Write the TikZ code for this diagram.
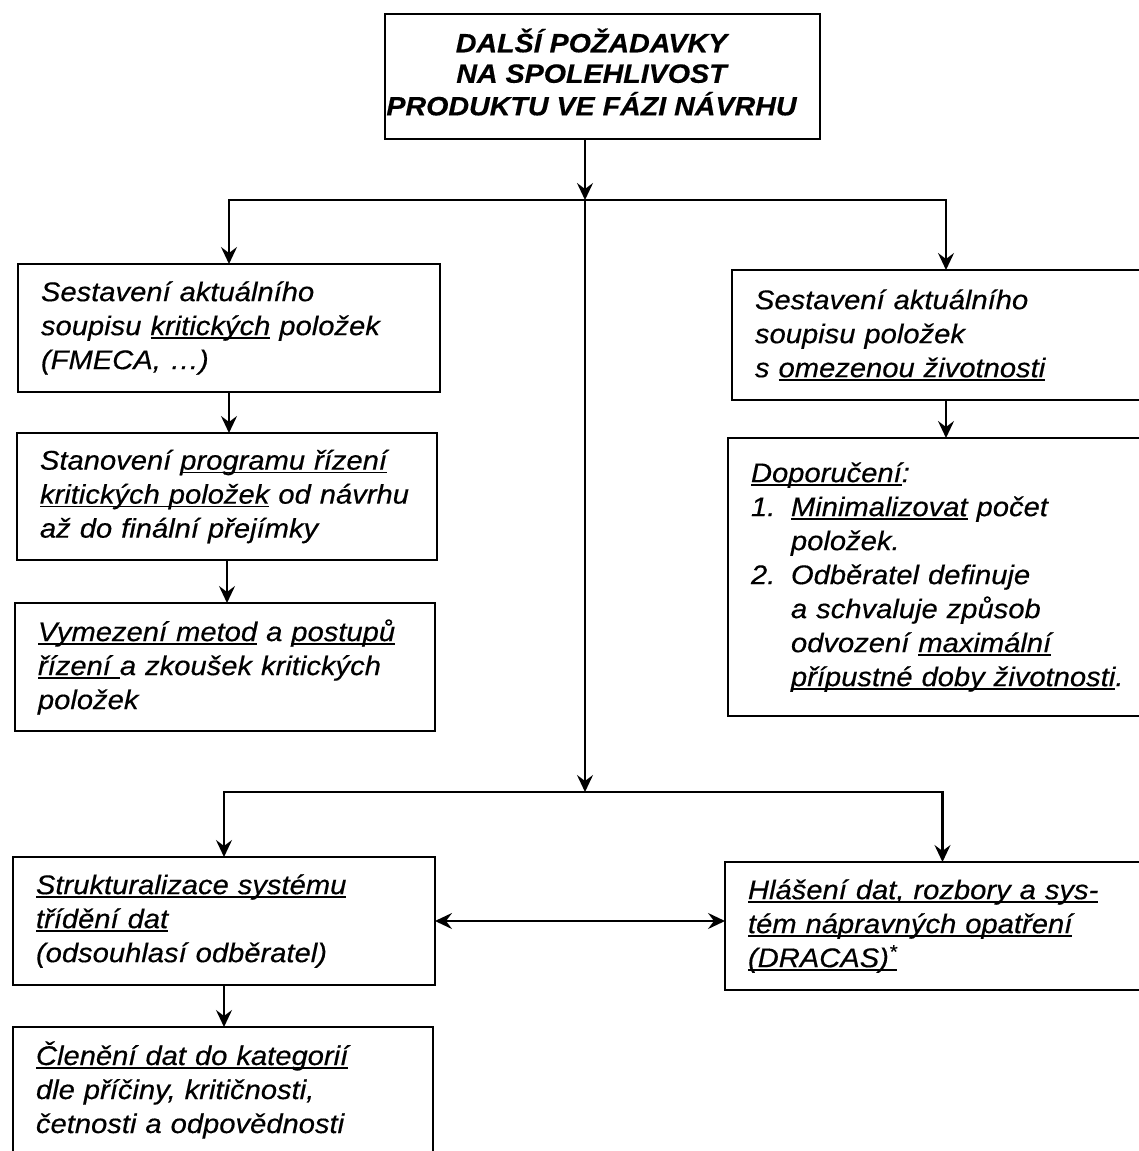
\documentclass[tikz,border=0pt]{standalone}
\usepackage{fontspec}
\setmainfont{Liberation Sans}[FakeStretch=1.08, FakeBold=0.4]
\usetikzlibrary{arrows.meta}
% underline with a fixed depth, drawn through the descenders
\newsavebox\undlbox
\newcommand{\undl}[1]{\leavevmode\sbox\undlbox{#1}\rlap{\rule[-3.5pt]{\wd\undlbox}{1.4pt}}\usebox\undlbox}
\begin{document}
\begin{tikzpicture}[x=1pt,y=-1pt,
  txt/.style={font=\itshape\fontsize{27}{34}\selectfont},
  box/.style={draw, line width=2.6pt, anchor=north west, align=left,
    inner xsep=23pt, inner ysep=0pt, outer sep=0pt, txt},
  headbox/.style={draw, line width=2.6pt, anchor=north west, align=center,
    inner sep=0pt, outer sep=0pt,
    font=\bfseries\itshape\fontsize{26.5}{30.5}\selectfont},
  tip/.tip={Stealth[length=17pt,width=16pt,inset=6pt]},
  arr/.style={line width=2.2pt, -tip},
  dblarr/.style={line width=2.2pt, tip-tip}]
\useasboundingbox (0,0) rectangle (1139,1151);
\fill[white] (0,0) rectangle (1139,1151);
\clip (0,0) rectangle (1139,1151);

% heading (text block set a little left of and above the box centre)
\node[headbox, minimum width=435pt, minimum height=125pt] (top) at (385,14)
  {\raisebox{5pt}{\begin{tabular}{@{}c@{}}DALŠÍ POŽADAVKY\\NA SPOLEHLIVOST\\PRODUKTU VE FÁZI NÁVRHU\end{tabular}}\hspace*{22pt}};

% left column
\node[box, text width=376pt, minimum height=128pt] (L1) at (18,264)
  {Sestavení aktuálního\\soupisu \undl{kritických} položek\\(FMECA, …)};
\node[box, text width=374pt, minimum height=127pt] (L2) at (17,433)
  {Stanovení \undl{programu řízení}\\\undl{kritických položek} od návrhu\\až do finální přejímky};
\node[box, text width=374pt, minimum height=128pt] (L3) at (15,603)
  {\undl{Vymezení metod} a \undl{postupů}\\\undl{řízení }a zkoušek kritických\\položek};

% right column
\node[box, text width=382pt, minimum height=130pt] (R1) at (732,270)
  {Sestavení aktuálního\\soupisu položek\\s \undl{omezenou životnosti}};
\node[box, text width=386pt, minimum height=278pt] (R2) at (728,438)
  {\undl{Doporučení}:\\
   \makebox[40pt][l]{1.}\undl{Minimalizovat} počet\\
   \hspace*{40pt}položek.\\
   \makebox[40pt][l]{2.}Odběratel definuje\\
   \hspace*{40pt}a schvaluje způsob\\
   \hspace*{40pt}odvození \undl{maximální}\\
   \hspace*{40pt}\undl{přípustné doby životnosti}.};

% lower part
\node[box, text width=376pt, minimum height=128pt] (B1) at (13,857)
  {\undl{Strukturalizace systému}\\\undl{třídění dat}\\(odsouhlasí odběratel)};
\node[box, text width=374pt, minimum height=126pt] (B2) at (13,1027)
  {\undl{Členění dat do kategorií}\\dle příčiny, kritičnosti,\\četnosti a odpovědnosti};
\node[box, text width=389pt, minimum height=128pt] (B3) at (725,862)
  {\undl{Hlášení dat, rozbory a sys-}\\\undl{tém nápravných opatření}\\\undl{(DRACAS)\textsuperscript{*}}};

% branching points
\coordinate (j1) at (585,200);
\coordinate (j2) at (585,792);

% connectors
\draw[arr] (top.south -| j1) -- (j1);
\draw[arr] (j1) -| (L1.north);
\draw[arr] (j1) -| (R1.north);
\draw[arr] (j1) -- (j2);
\draw[arr] (j2) -| (B1.north);
\draw[arr] (j2) -| (B3.north);
\draw[arr] (L1.south) -- (L1.south |- L2.north);
\draw[arr] (L2.south) -- (L2.south |- L3.north);
\draw[arr] (R1.south) -- (R1.south |- R2.north);
\draw[arr] (B1.south) -- (B1.south |- B2.north);
\draw[dblarr] (B1.east) -- (B1.east -| B3.west);
\end{tikzpicture}
\end{document}
